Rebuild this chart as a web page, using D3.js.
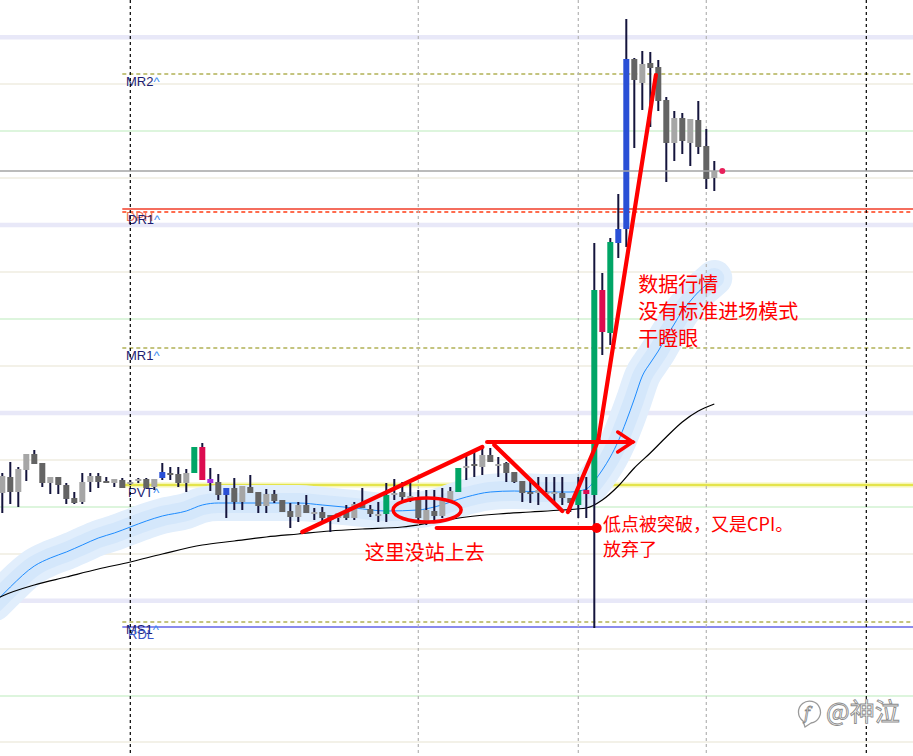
<!DOCTYPE html>
<html><head><meta charset="utf-8">
<script src="https://cdn.jsdelivr.net/npm/d3@7"></script>
<style>html,body{margin:0;padding:0;background:#fff;overflow:hidden}</style>
</head><body><svg id="c" width="913" height="756"></svg>
<script>
// ---------- data ----------
const openP = [1950.7,1952.3,1950.8,1953.0,1954.6,1953.7,1951.7,1952.3,1951.5,1950.2,
1949.8,1951.8,1952.4,1951.9,1951.7,1952.0,1951.8,1951.9,1952.1,1951.3,
1952.2,1952.7,1952.6,1951.7,1952.7,1955.3,1952.1,1951.8,1950.5,1951.2,
1949.8,1951.3,1950.8,1949.4,1950.6,1950.0,1948.9,1948.3,1949.5,1948.8,
1948.8,1948.5,1948.2,1948.8,1948.2,1949.7,1949.1,1948.6,1948.6,1950.7,
1950.8,1950.4,1950.3,1947.9,1948.9,1948.4,1950.0,1950.8,1953.2,1953.6,
1953.3,1954.5,1953.6,1953.7,1952.8,1951.9,1950.8,1950.7,1950.8,1950.8,
1950.7,1950.2,1949.5,1951.0,1950.5,1971.0,1966.7,1975.7,1977.1,1994.1,
1991.7,1993.7,1993.3,1990.0,1985.7,1988.2,1985.7,1988.0,1985.4,1982.2];
const highP = [1952.7,1953.8,1953.3,1954.6,1955.0,1953.7,1952.3,1952.3,1951.7,1950.8,
1952.7,1952.7,1952.7,1952.3,1952.1,1952.2,1952.0,1952.2,1952.2,1952.1,
1953.7,1953.3,1953.3,1953.1,1955.3,1955.7,1953.2,1952.6,1951.2,1952.2,
1951.4,1952.5,1950.8,1951.1,1951.0,1950.0,1949.7,1949.8,1950.5,1949.2,
1949.3,1948.5,1948.7,1949.5,1949.8,1951.2,1949.5,1949.8,1951.7,1952.1,
1951.8,1951.7,1951.0,1951.0,1951.0,1951.2,1951.3,1953.2,1954.7,1955.0,
1955.2,1955.2,1954.3,1953.8,1952.8,1951.9,1952.0,1952.3,1952.3,1952.3,
1952.3,1950.2,1952.3,1952.3,1975.7,1972.7,1976.2,1980.6,1998.1,1994.2,
1994.9,1994.8,1994.0,1990.3,1988.9,1988.7,1988.1,1989.9,1987.1,1983.9];
const lowP = [1948.7,1949.6,1949.3,1951.9,1953.6,1951.3,1950.6,1950.6,1949.6,1949.6,
1949.6,1950.8,1951.2,1951.7,1951.3,1951.2,1951.5,1951.7,1951.2,1951.0,
1952.0,1952.0,1951.3,1950.8,1952.7,1952.0,1950.9,1950.0,1948.2,1949.0,
1949.0,1950.7,1948.7,1948.7,1949.7,1948.8,1947.2,1947.8,1948.7,1948.0,
1947.7,1946.8,1947.8,1948.0,1948.0,1949.2,1948.3,1947.8,1947.8,1950.0,
1949.8,1949.8,1947.8,1947.5,1948.0,1948.2,1949.8,1950.8,1952.0,1952.3,
1952.5,1953.8,1952.3,1951.8,1951.7,1949.8,1949.7,1949.5,1950.3,1949.7,
1949.5,1948.8,1948.2,1948.2,1937.2,1964.5,1965.5,1974.2,1975.3,1985.2,
1989.0,1987.3,1988.9,1981.8,1983.9,1984.6,1983.4,1984.6,1981.1,1980.9];
const closeP = [1952.4,1950.8,1953.1,1954.6,1953.6,1951.7,1952.3,1951.5,1950.1,1949.7,
1951.8,1952.4,1951.8,1951.7,1952.1,1951.2,1951.8,1952.1,1951.2,1952.1,
1952.8,1952.6,1951.7,1952.7,1955.3,1952.0,1951.7,1950.5,1951.2,1949.8,
1951.4,1950.7,1949.4,1950.6,1949.9,1948.8,1948.3,1949.5,1948.7,1948.8,
1948.2,1948.0,1948.7,1948.2,1949.6,1949.2,1948.6,1948.6,1950.5,1950.7,
1950.3,1950.4,1948.2,1949.0,1948.4,1950.2,1950.9,1953.2,1953.4,1953.4,
1954.5,1953.8,1953.6,1952.7,1951.8,1950.7,1950.6,1951.0,1950.8,1950.8,
1950.2,1949.7,1951.0,1950.6,1971.0,1966.8,1975.8,1977.1,1994.1,1992.0,
1993.6,1993.2,1989.9,1985.7,1988.2,1985.9,1988.1,1985.3,1982.1,1982.9];

// highlighted bars (signal colour codes)
const signalIdx  = [20,24,25,26,28,48,57,72,73,74,75,76,77,78];
const signalKind = ["b","g","r","p","b","g","g","g","r","g","r","g","b","b"];

// envelope mid line (blue) and slow MA (black): [bar index], [price]
const bandIdx = [-1,0,1,4,6,8,10,12,14,16,18,20,23,25,27,29,33,37,40,44,48,52,54,58,61,64,68,71,73,74,75,76,77,78,79,80,81,82,83,84,85,86,87,88,89];
const bandMid = [1939.7,1940.5,1941.3,1943.4,1944.2,1944.8,1945.5,1946.2,1946.7,1947.3,1947.9,1948.4,1948.9,1949.5,1949.7,1949.7,1949.7,1949.7,1949.5,1949.2,1948.9,1949.0,1949.3,1950.3,1950.8,1950.9,1950.8,1950.8,1951.1,1951.9,1953.0,1954.3,1955.9,1957.9,1960.1,1962.4,1963.7,1964.9,1966.3,1967.6,1968.9,1969.9,1970.8,1971.5,1972.2];
const maIdx = [-1,0,4,8,12,16,20,25,29,33,37,41,45,50,54,58,62,66,70,73,75,77,79,81,83,85,87,89];
const maVal = [1940.0,1940.4,1941.5,1942.3,1943.1,1943.8,1944.6,1945.5,1945.9,1946.3,1946.6,1946.9,1947.1,1947.3,1947.8,1948.3,1948.6,1948.8,1949.0,1949.2,1950.0,1951.4,1953.2,1954.7,1956.3,1957.8,1958.9,1959.6];

// round-number price grid
const majorLevels   = [1996.27,1977.49,1958.71,1939.93];
const halfLevels    = [1986.9,1968.1,1949.3,1930.4];
const quarterLevels = [1991.6,1982.2,1972.8,1963.4,1954.0,1944.6,1935.1,1925.8];

// pivot levels
const pivotNames  = ["MR2","DPH","DR1","MR1","PVT","MS1","RDL"];
const pivotPrices = [1992.6,1979.1,1978.8,1965.2,1951.5,1937.8,1937.3];

// period separators (bar index)
const daySeps = [16,108];
const sessionSeps = [52,72,88];

// annotations
const annLines = [[37.5,1946.8,60,1955.3],[61.5,1955.5,70,1948.9],[70.7,1948.8,74.5,1956.0],[74.5,1956.0,81.7,1992.5],[60.6,1955.8,78.8,1955.8],[54.3,1947.2,74.3,1947.2]];
const noteA = "这里没站上去";
const noteB = ["数据行情","没有标准进场模式","干瞪眼"];
const noteC = ["低点被突破，又是CPI。","放弃了"];

// ---------- drawing ----------
const W = 913, H = 756;
const svg = d3.select('#c');
const x = d3.scaleLinear().domain([0, 89]).range([2.3, 714.3]);
const y = d3.scaleLinear().domain([2000, 1924.4]).range([0, H]);

svg.append('rect').attr('width', W).attr('height', H).attr('fill', '#fff');

const grid = svg.append('g');
function hline(g, p, x0, color, w, dash) {
  g.append('line').attr('x1', x0).attr('x2', W).attr('y1', y(p)).attr('y2', y(p))
    .attr('stroke', color).attr('stroke-width', w).attr('stroke-dasharray', dash || null);
}
quarterLevels.forEach(p => hline(grid, p, 0, '#efece0', 1.5));
halfLevels.forEach(p => hline(grid, p, 0, '#d2f2d2', 1.5));
majorLevels.forEach(p => hline(grid, p, 0, '#e8e8f8', 4.5));

// pivots
const pv = svg.append('g');
const px0 = x(15);
const pStyle = {
  MR2: ['#8a8a00', 1.2, '4,3'], MR1: ['#8a8a00', 1.2, '4,3'], MS1: ['#8a8a00', 1.2, '4,3'],
  DPH: ['#f03c28', 1.3, null], DR1: ['#ff3c14', 1.3, '4,3'],
  RDL: ['#6464e6', 1.5, null]
};
pivotNames.forEach((n, k) => {
  if (n === 'PVT') {
    hline(pv, pivotPrices[k], px0, '#f6f6b4', 5);
    hline(pv, pivotPrices[k], px0, '#dede28', 1.5);
  } else {
    const s = pStyle[n];
    hline(pv, pivotPrices[k], px0, s[0], s[1], s[2]);
  }
});

// envelope band
const line = d3.line().x(d => x(d[0])).y(d => y(d[1])).curve(d3.curveMonotoneX);
const bandPts = bandIdx.map((d, k) => [d, bandMid[k]]);
svg.append('path').attr('d', line(bandPts)).attr('fill', 'none').attr('stroke', '#e1eefc')
  .attr('stroke-width', 36).attr('stroke-linecap', 'round').attr('stroke-linejoin', 'round');
svg.append('path').attr('d', line(bandPts)).attr('fill', 'none').attr('stroke', '#d4e7fb')
  .attr('stroke-width', 20).attr('stroke-linecap', 'round').attr('stroke-linejoin', 'round');
svg.append('path').attr('d', line(bandPts)).attr('fill', 'none').attr('stroke', '#1e8cff').attr('stroke-width', 1);
svg.append('path').attr('d', line(maIdx.map((d, k) => [d, maVal[k]]))).attr('fill', 'none')
  .attr('stroke', '#000').attr('stroke-width', 1.2);

// pivot labels
const lab = svg.append('g').attr('font-family', '"Liberation Sans", Arial, sans-serif').attr('font-size', 13);
pivotNames.forEach((n, k) => {
  const t = lab.append('text').attr('x', 126 + (n === 'PVT' || n === 'DR1' || n === 'RDL' ? 2 : 0))
    .attr('y', y(pivotPrices[k]) + 11.5);
  if (n === 'DPH') { t.attr('fill', '#f07050').text(n); return; }
  if (n === 'RDL') { t.attr('fill', '#3a56c8').text(n); return; }
  t.append('tspan').attr('fill', '#1c1c72').text(n);
  t.append('tspan').attr('fill', '#3c8cf0').text('^');
});

// separators
const sep = svg.append('g');
daySeps.forEach(i => sep.append('line').attr('x1', x(i)).attr('x2', x(i)).attr('y1', 0).attr('y2', H)
  .attr('stroke', '#000').attr('stroke-width', 1.2).attr('stroke-dasharray', '3,3'));
sessionSeps.forEach(i => sep.append('line').attr('x1', x(i)).attr('x2', x(i)).attr('y1', 0).attr('y2', H)
  .attr('stroke', '#b4b4b4').attr('stroke-width', 1.2).attr('stroke-dasharray', '3,3'));

// candles
const sigColor = { g: '#00a566', r: '#dc0c50', b: '#2a50d6', p: '#a030e0' };
const cg = svg.append('g');
openP.forEach((o, i) => {
  const c = closeP[i];
  const si = signalIdx.indexOf(i);
  let col = c >= o ? '#a6a6a6' : '#646464';
  if (si >= 0) col = sigColor[signalKind[si]];
  cg.append('line').attr('x1', x(i)).attr('x2', x(i)).attr('y1', y(highP[i])).attr('y2', y(lowP[i]))
    .attr('stroke', '#14143c').attr('stroke-width', 2);
  const top = Math.min(y(o), y(c));
  const h = Math.max(2, Math.abs(y(o) - y(c)));
  cg.append('rect').attr('x', x(i) - 3).attr('y', top).attr('width', 6).attr('height', h).attr('fill', col);
});

// current price line
const last = closeP[closeP.length - 1];
hline(svg, last, 0, '#a4a4a4', 1.5);
svg.append('circle').attr('cx', x(90)).attr('cy', y(last)).attr('r', 3).attr('fill', '#e8205a');

// annotations
const red = '#ff0000';
const an = svg.append('g').attr('stroke', red).attr('fill', 'none').attr('stroke-linecap', 'round');
annLines.forEach(a => an.append('line').attr('x1', x(a[0])).attr('y1', y(a[1])).attr('x2', x(a[2])).attr('y2', y(a[3])).attr('stroke-width', 4.2));
const tipX = x(annLines[4][2]), tipY = y(annLines[4][3]);
an.append('polyline').attr('points', [[tipX - 15, tipY - 10], [tipX, tipY], [tipX - 15, tipY + 10]].join(' ')).attr('stroke-width', 3.5);
an.append('ellipse').attr('cx', x(53.1)).attr('cy', y(1949.0)).attr('rx', x(57.35) - x(53.1)).attr('ry', y(1947.8) - y(1949.0)).attr('stroke-width', 3.5);
svg.append('circle').attr('cx', x(annLines[5][2])).attr('cy', y(annLines[5][3])).attr('r', 5).attr('fill', red);

const tx = svg.append('g').attr('fill', red).attr('font-family', '"Noto Sans CJK SC", sans-serif');
tx.append('text').attr('x', x(45.3)).attr('y', y(1944.0)).attr('font-size', 20).text(noteA);
noteB.forEach((s, k) => tx.append('text').attr('x', x(79.5)).attr('y', y(1970.8) + k * 27).attr('font-size', 20).text(s));
noteC.forEach((s, k) => tx.append('text').attr('x', x(75.1)).attr('y', y(1946.9) + k * 25).attr('font-size', 18).text(s));

// watermark
const wm = svg.append('g');
wm.append('path').attr('d', 'M803,721 a11,11 0 1 1 8,2 l-6,4 z').attr('fill', 'none').attr('stroke', '#9a9a9a').attr('stroke-width', 1.3);
wm.append('text').attr('x', 804).attr('y', 719).attr('font-size', 16).attr('font-style', 'italic')
  .attr('font-family', '"DejaVu Serif", serif').attr('fill', '#fff').attr('stroke', '#888').attr('stroke-width', 0.8).text('f');
wm.append('text').attr('x', 826).attr('y', 721).attr('font-size', 25).attr('font-family', '"Noto Sans CJK SC", sans-serif')
  .attr('fill', '#fff').attr('stroke', '#8c8c8c').attr('stroke-width', 0.9).text('@神泣');
</script></body></html>
